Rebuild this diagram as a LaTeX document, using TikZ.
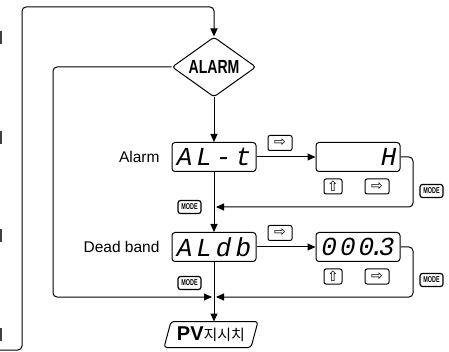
\documentclass[tikz,border=0pt]{standalone}
\usepackage{fontspec}
\setmainfont{Liberation Sans}
\newfontfamily\segfont{Liberation Mono}
\newfontfamily\symfont{DejaVu Sans}
\newfontfamily\kofont{Noto Sans CJK KR}
\usetikzlibrary{shapes.geometric,arrows.meta}
\begin{document}
\begin{tikzpicture}[x=1pt,y=-1pt,line width=1pt,
  every node/.style={inner sep=0pt},
  conn/.style={line width=1pt,rounded corners=4pt},
  arr/.style={-{Triangle[length=8pt,width=7pt]}},
  dispbox/.style={draw,rounded corners=3pt,minimum width=84pt,minimum height=29pt,line width=1pt},
  keybox/.style={draw,rounded corners=2pt,minimum height=15pt,line width=1pt,font=\symfont\fontsize{14}{14}\selectfont},
  modebox/.style={draw,rounded corners=2.5pt,minimum width=23pt,minimum height=13pt,line width=1.2pt,font=\bfseries\fontsize{8.5}{8.5}\selectfont},
  seg/.style={font=\segfont\itshape\fontsize{26}{26}\selectfont},
  lbl/.style={anchor=east,font=\fontsize{15.5}{15.5}\selectfont}]
\useasboundingbox (0,0) rectangle (449,352);
% left edge fragments
\foreach \y in {31,131,229,328}{\fill[black!75] (0,\y) rectangle (2,\y+13);}
% nodes
\node[draw,diamond,minimum width=84pt,minimum height=60pt,aspect=1.4,rounded corners=3pt] (alarm) at (214,67)
  {\bfseries\fontsize{19}{19}\selectfont\scalebox{0.74}[1]{ALARM}};
\node[dispbox] (alt) at (214,157) {};
\node[seg] (altt) at (214,157) {A\hspace{4pt}L\hspace{4pt}-\hspace{4pt}t};
\node[dispbox] (hbox) at (358,157) {};
\node[seg,anchor=east] (hval) at (397,157) {H};
\node[dispbox] (aldb) at (214,247) {};
\node[seg] (aldbt) at (214,247) {A\hspace{4pt}L\hspace{4pt}d\hspace{4pt}b};
\node[dispbox] (dbox) at (358,247) {};
\node[seg] (dboxt) at (358,247) {0\hspace{3pt}0\hspace{3pt}0\hspace{-5pt}.\hspace{-6pt}3};
\node[lbl] (lalarm) at (160,157) {Alarm};
\node[lbl] (ldb) at (160,247) {Dead band};
\node[minimum width=86pt,minimum height=25pt] (pv) at (211,334.5)
  {\bfseries\fontsize{20}{20}\selectfont PV\kofont\mdseries\fontsize{15}{15}\selectfont 지시치};
\draw[rounded corners=3pt] ([xshift=3.5pt]pv.north west) -- ([xshift=3.5pt]pv.north east)
  -- ([xshift=-3.5pt]pv.south east) -- ([xshift=-3.5pt]pv.south west) -- cycle;
% keys
\node[keybox,minimum width=24pt] (k1) at (280,143) {⇨};
\node[keybox,minimum width=18pt] (k2) at (333,186.5) {⇧};
\node[keybox,minimum width=24pt] (k3) at (377,186.5) {⇨};
\node[modebox] (m1) at (431.5,191) {\scalebox{0.64}[1]{MODE}};
\node[modebox] (m2) at (189.5,207) {\scalebox{0.64}[1]{MODE}};
\node[keybox,minimum width=24pt] (k4) at (280,233) {⇨};
\node[keybox,minimum width=18pt] (k5) at (333,276.5) {⇧};
\node[keybox,minimum width=24pt] (k6) at (377,276.5) {⇨};
\node[modebox] (m3) at (431.5,280) {\scalebox{0.64}[1]{MODE}};
\node[modebox] (m4) at (189.5,283) {\scalebox{0.64}[1]{MODE}};
% junctions
\coordinate (start) at (0,350);
\coordinate (j1) at (216,207);
\coordinate (jl) at (212,297);
\coordinate (jr) at (216,297);
% connectors
\draw[conn,arr] (start) -- (22,350) -- (22,7) -- (214,7) -- (alarm.north);
\draw[conn,arr] (alarm.west) -- (53,67) -- (53,297) -- (jl);
\draw[arr] (alarm.south) -- (alt.north);
\draw[arr] (alt.east) -- (hbox.west);
\draw[conn,arr] (hbox.east) -- (413,157) -- (413,207) -- (j1);
\draw[arr] (alt.south) -- (aldb.north);
\draw[arr] (aldb.east) -- (dbox.west);
\draw[conn,arr] (dbox.east) -- (413,247) -- (413,297) -- (jr);
\draw[arr] (aldb.south) -- (aldb.south |- pv.north);
\end{tikzpicture}
\end{document}
